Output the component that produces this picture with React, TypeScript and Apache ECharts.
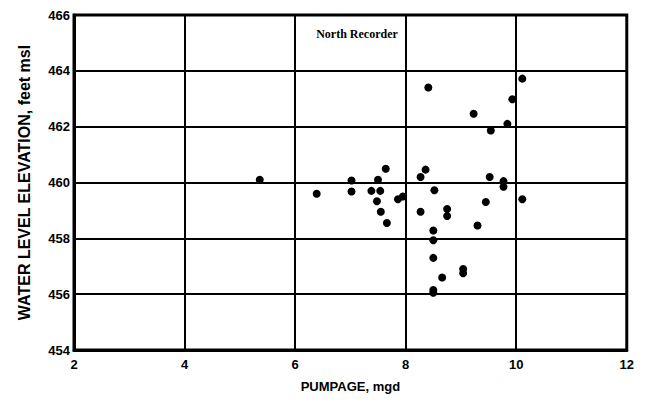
import React, { useEffect, useRef } from "react";
import * as echarts from "echarts";

const pumpage = [5.36, 6.39, 7.02, 7.02, 7.5, 7.64, 7.38, 7.54, 7.48, 7.55, 7.66, 7.86, 7.95, 8.27, 8.36, 8.41, 8.27, 8.52, 8.5, 8.5, 8.5, 8.5, 8.5, 8.66, 8.75, 8.75, 9.04, 9.04, 9.3, 9.23, 9.45, 9.52, 9.54, 9.77, 9.77, 9.84, 9.93, 10.11, 10.11];
const elevation = [460.1, 459.6, 460.07, 459.68, 460.1, 460.49, 459.7, 459.7, 459.33, 458.95, 458.55, 459.4, 459.5, 460.2, 460.46, 463.4, 458.95, 459.72, 458.28, 457.93, 457.3, 456.15, 456.05, 456.6, 459.05, 458.8, 456.9, 456.75, 458.46, 462.46, 459.3, 460.2, 461.86, 460.05, 459.85, 462.1, 462.98, 463.72, 459.4];

const title = "North Recorder";
const xName = "PUMPAGE, mgd";
const yName = "WATER LEVEL ELEVATION, feet msl";

export default function App() {
  const ref = useRef<HTMLDivElement>(null);
  useEffect(() => {
    const chart = echarts.init(ref.current!, null, { renderer: "svg" });
    const font = "'Liberation Sans', Arial, sans-serif";
    chart.setOption({
      animation: false,
      backgroundColor: "#fff",
      title: {
        text: title,
        left: 344,
        top: 15,
        textAlign: "center",
        textStyle: { fontFamily: "'Liberation Serif', 'Times New Roman', serif", fontWeight: "bold", fontSize: 12, color: "#000" },
      },
      grid: { left: 64, right: 5, top: 7, bottom: 41, show: true, borderColor: "#000", borderWidth: 3 },
      xAxis: {
        type: "value",
        min: 2,
        max: 12,
        interval: 2,
        name: xName,
        nameLocation: "middle",
        nameGap: 30,
        nameTextStyle: { fontFamily: font, fontWeight: "bold", fontSize: 13, color: "#000" },
        axisLine: { show: true, lineStyle: { color: "#000", width: 3 } },
        axisTick: { show: false },
        axisLabel: { fontFamily: font, fontWeight: "bold", fontSize: 13, color: "#000", margin: 8 },
        splitLine: { show: true, lineStyle: { color: "#000", width: 2 } },
      },
      yAxis: {
        type: "value",
        min: 454,
        max: 466,
        interval: 2,
        name: yName,
        nameLocation: "middle",
        nameGap: 42,
        nameTextStyle: { fontFamily: font, fontWeight: "bold", fontSize: 16, color: "#000" },
        axisLine: { show: true, lineStyle: { color: "#000", width: 3 } },
        axisTick: { show: false },
        axisLabel: { fontFamily: font, fontWeight: "bold", fontSize: 13, color: "#000", margin: 4 },
        splitLine: { show: true, lineStyle: { color: "#000", width: 2 } },
      },
      series: [
        {
          type: "scatter",
          symbol: "circle",
          symbolSize: 8,
          itemStyle: { color: "#000", opacity: 1 },
          data: pumpage.map((x, i) => [x, elevation[i]]),
        },
      ],
    });
    return () => chart.dispose();
  }, []);
  return <div ref={ref} style={{ width: 629, height: 390 }} />;
}
